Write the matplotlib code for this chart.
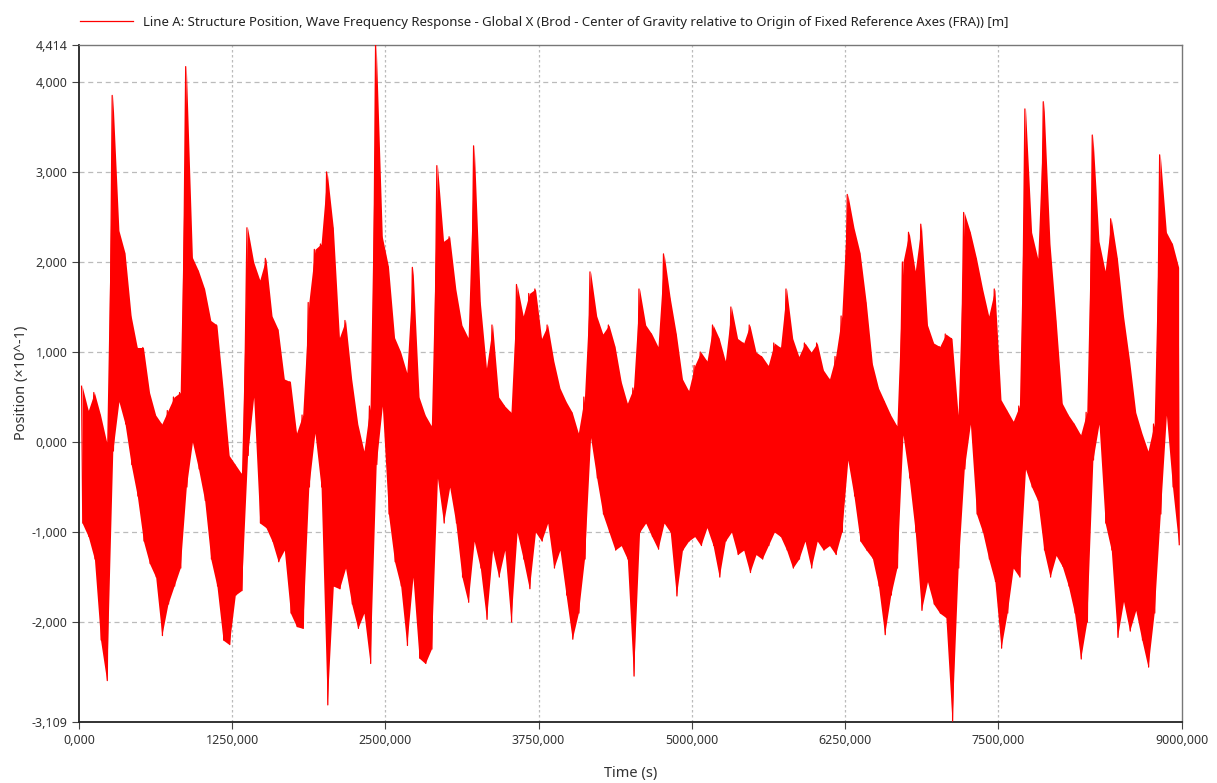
import numpy as np
import matplotlib
matplotlib.use("Agg")
import matplotlib.pyplot as plt

plt.rcParams['font.family'] = ['Noto Sans', 'DejaVu Sans']

# bin start times (s), 50 s bins, and the upper / lower extent of the trace in each bin
bin_start = list(range(0, 9000, 50))
upper = [
    0.62, 0.35, 0.55, 0.30, 0.00, 3.85, 2.35, 2.10, 1.40, 1.05,
    1.05, 0.55, 0.30, 0.20, 0.35, 0.50, 0.55, 4.17, 2.05, 1.90,
    1.70, 1.35, 1.30, 0.60, -0.15, -0.25, -0.35, 2.38, 2.00, 1.80,
    2.04, 1.40, 1.25, 0.70, 0.67, 0.10, 0.30, 1.55, 2.14, 2.20,
    3.00, 2.38, 1.16, 1.35, 0.70, 0.20, -0.10, 0.40, 4.41, 2.28,
    1.95, 1.16, 1.00, 0.77, 1.94, 0.50, 0.30, 0.18, 3.07, 2.23,
    2.28, 1.70, 1.30, 1.16, 3.29, 1.55, 0.82, 1.30, 0.50, 0.40,
    0.33, 1.75, 1.40, 1.65, 1.70, 1.15, 1.30, 0.90, 0.60, 0.45,
    0.33, 0.10, 0.50, 1.89, 1.40, 1.20, 1.30, 1.06, 0.67, 0.43,
    0.60, 1.70, 1.30, 1.20, 1.06, 2.09, 1.60, 1.20, 0.70, 0.57,
    0.85, 1.00, 0.90, 1.30, 1.15, 0.90, 1.50, 1.15, 1.10, 1.30,
    1.00, 0.95, 0.85, 1.10, 1.05, 1.70, 1.15, 0.95, 1.10, 1.00,
    1.10, 0.80, 0.70, 0.95, 1.40, 2.75, 2.38, 2.10, 1.55, 0.87,
    0.60, 0.45, 0.30, 0.18, 2.00, 2.33, 1.90, 2.42, 1.30, 1.10,
    1.06, 1.20, 1.15, 0.30, 2.55, 2.33, 2.04, 1.70, 1.40, 1.70,
    0.47, 0.35, 0.23, 0.40, 3.70, 2.33, 2.04, 3.78, 2.20, 1.35,
    0.43, 0.30, 0.20, 0.08, 0.33, 3.41, 2.23, 1.90, 2.48, 2.04,
    1.40, 0.90, 0.33, 0.10, -0.10, 0.20, 3.19, 2.33, 2.20, 1.94,
]
lower = [
    -0.90, -1.05, -1.30, -2.20, -2.65, -0.10, 0.45, 0.20, -0.25, -0.60,
    -1.10, -1.35, -1.50, -2.15, -1.80, -1.60, -1.40, -0.50, 0.00, -0.30,
    -0.65, -1.30, -1.60, -2.20, -2.25, -1.70, -1.65, -0.15, 0.50, -0.90,
    -0.95, -1.10, -1.33, -1.20, -1.90, -2.05, -2.07, -0.50, 0.10, -0.50,
    -2.92, -1.60, -1.63, -1.40, -1.80, -2.07, -1.90, -2.46, -0.25, 0.40,
    -0.80, -1.33, -1.60, -2.26, -1.50, -2.40, -2.46, -2.30, -0.40, -0.90,
    -0.50, -0.90, -1.50, -1.78, -1.10, -1.40, -1.97, -1.20, -1.50, -1.20,
    -2.00, -1.00, -1.30, -1.63, -1.00, -1.10, -0.90, -1.40, -1.20, -1.70,
    -2.19, -1.90, -1.30, 0.05, -0.40, -0.80, -1.00, -1.20, -1.15, -1.30,
    -2.60, -1.00, -0.90, -1.05, -1.19, -0.90, -1.00, -1.71, -1.20, -1.10,
    -1.05, -1.15, -0.95, -1.15, -1.50, -1.10, -1.00, -1.25, -1.20, -1.45,
    -1.25, -1.30, -1.15, -1.00, -1.05, -1.20, -1.40, -1.30, -1.10, -1.40,
    -1.10, -1.20, -1.15, -1.25, -1.00, -0.20, -0.60, -1.10, -1.20, -1.29,
    -1.60, -2.14, -1.70, -1.40, 0.08, -0.40, -1.00, -1.87, -1.55, -1.80,
    -1.90, -1.95, -3.10, -1.40, -0.30, 0.20, -0.80, -1.00, -1.30, -1.55,
    -2.29, -1.90, -1.40, -1.50, -0.30, -0.50, -0.65, -1.20, -1.50, -1.26,
    -1.38, -1.60, -1.90, -2.41, -2.00, -0.20, 0.20, -0.90, -1.20, -2.17,
    -1.77, -2.10, -1.87, -2.20, -2.50, -1.90, -0.80, 0.30, -0.50, -1.14,
]

y_ticks = [-3.109, -2, -1, 0, 1, 2, 3, 4, 4.414]
x_ticks = [0, 1250, 2500, 3750, 5000, 6250, 7500, 9000]

centers = [t0 + 25 for t0 in bin_start]

# trace: hi then lo inside each bin
t = []
y = []
for t0, hi, lo in zip(bin_start, upper, lower):
    t += [t0 + 20, t0 + 30]
    y += [hi, lo]

fig = plt.figure(figsize=(12.17, 7.83), dpi=100)
ax = fig.add_axes([0.065, 0.078, 0.906, 0.865])

ax.fill_between(centers, lower, upper, color='#ff0000', lw=0, zorder=2)
ax.plot(t, y, color='#ff0000', lw=0.9, zorder=3,
        label='Line A: Structure Position, Wave Frequency Response - Global X (Brod - Center of Gravity relative to Origin of Fixed Reference Axes (FRA)) [m]')

ax.set_xlim(0, 9000)
ax.set_ylim(-3.109, 4.414)

def comma(v):
    return f"{v:.3f}".replace('.', ',')

ax.set_yticks(y_ticks)
ax.set_yticklabels([comma(v) for v in y_ticks])
ax.set_xticks(x_ticks)
ax.set_xticklabels([comma(v) for v in x_ticks])
ax.tick_params(labelsize=9, length=5, color='#444444', labelcolor='#333333')

for v in y_ticks[1:-1]:
    ax.axhline(v, color='#bbbbbb', lw=0.9, ls=(0, (4, 3)), zorder=0)
for v in x_ticks[1:-1]:
    ax.axvline(v, color='#bbbbbb', lw=0.9, ls=(0, (2, 2)), zorder=0)

for s in ['top', 'right']:
    ax.spines[s].set_color('#777777')
    ax.spines[s].set_linewidth(1.0)
for s in ['left', 'bottom']:
    ax.spines[s].set_color('#222222')
    ax.spines[s].set_linewidth(1.3)

ax.set_xlabel('Time (s)', fontsize=10.5, color='#333333', labelpad=14)
ax.set_ylabel('Position (×10^-1)', fontsize=10.5, color='#333333', labelpad=2)

fig.legend(loc='upper left', bbox_to_anchor=(0.056, 0.995), frameon=False,
           fontsize=9.5, handlelength=4.0, labelcolor='#222222')

fig.savefig('out.png', dpi=100)
